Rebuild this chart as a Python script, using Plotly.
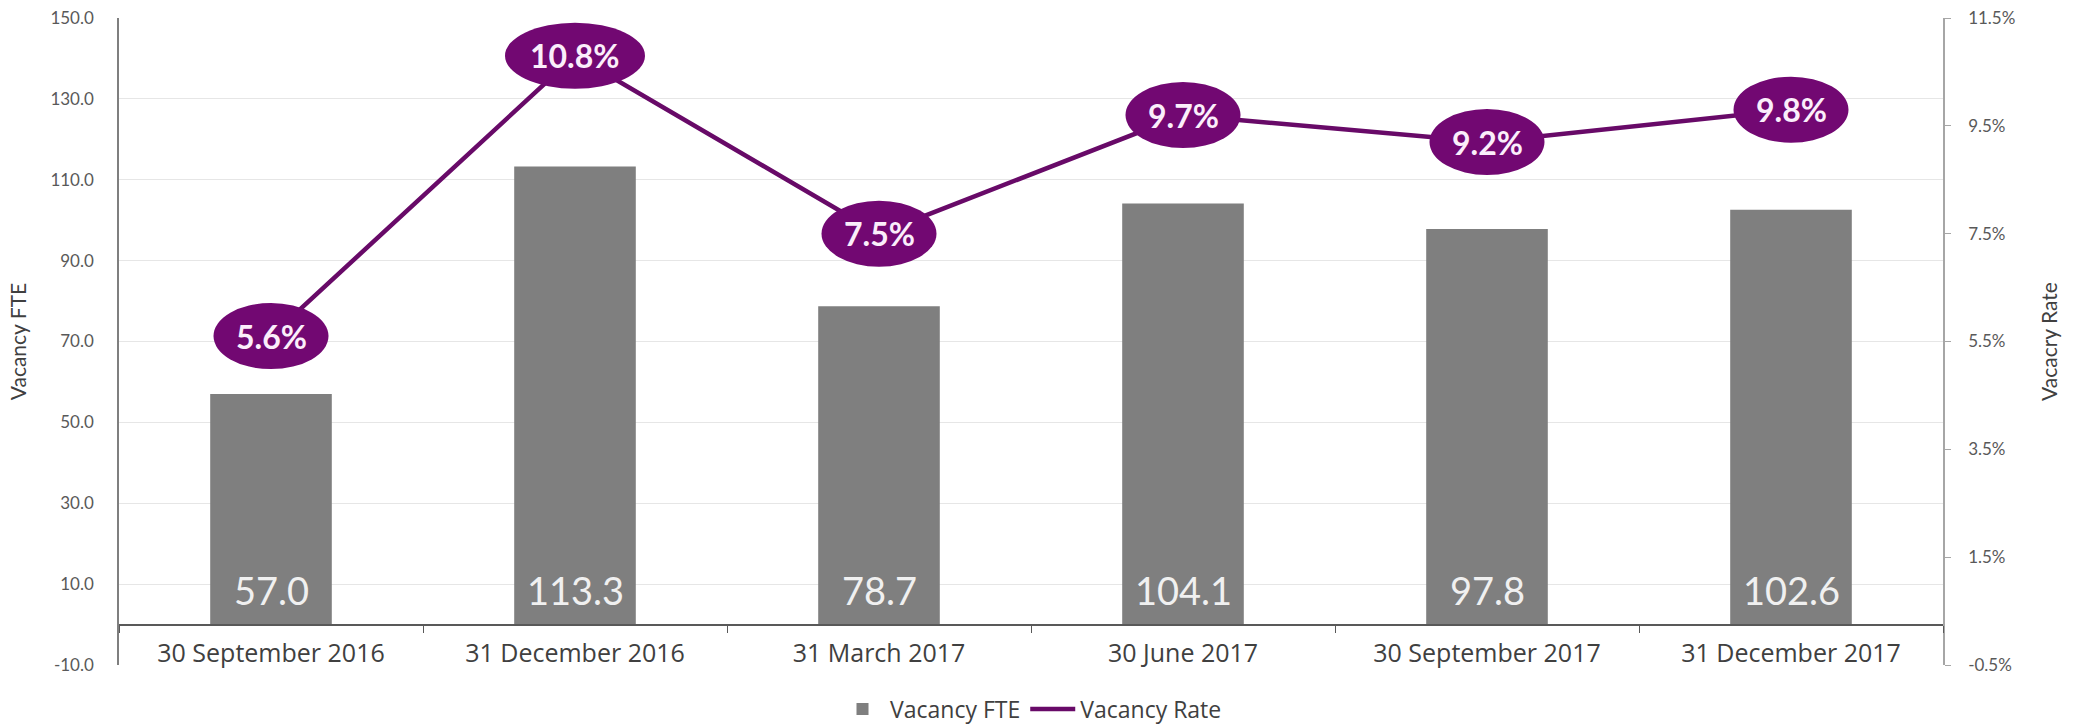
import plotly.graph_objects as go

categories = ["30 September 2016", "31 December 2016", "31 March 2017",
              "30 June 2017", "30 September 2017", "31 December 2017"]
vacancy_fte = [57.0, 113.3, 78.7, 104.1, 97.8, 102.6]
vacancy_rate = [5.6, 10.8, 7.5, 9.7, 9.2, 9.8]

left_ticks = [-10, 10, 30, 50, 70, 90, 110, 130, 150]
right_ticks = [-0.5, 1.5, 3.5, 5.5, 7.5, 9.5, 11.5]

PURPLE = "#720872"
LINE_PURPLE = "#680a68"
GRAY_BAR = "#7f7f7f"
FONT = "Lato"
FONT2 = "Open Sans"

fig = go.Figure()
fig.add_trace(go.Bar(
    x=categories, y=vacancy_fte, name="Vacancy FTE",
    marker=dict(color=GRAY_BAR, line=dict(width=0)),
))
fig.add_trace(go.Scatter(
    x=categories, y=vacancy_rate, name="Vacancy Rate", yaxis="y2",
    mode="lines", line=dict(color=LINE_PURPLE, width=4.5),
))

shapes = []
annotations = []
# bar value labels near the bar base
for c, v in zip(categories, vacancy_fte):
    annotations.append(dict(
        x=c, y=0, xref="x", yref="y", yanchor="bottom", yshift=10,
        text=f"{v:.1f}", showarrow=False,
        font=dict(family=FONT, size=38, color="#f0f0f0"),
    ))
# rate labels in ellipses
for i, r in enumerate(vacancy_rate):
    label = f"{r:.1f}%"
    half_w = 12.5 * len(label) + 7.5
    shapes.append(dict(
        type="circle", xref="x", yref="y2",
        xsizemode="pixel", ysizemode="pixel",
        xanchor=i, yanchor=r,
        x0=-half_w, x1=half_w, y0=-33, y1=33,
        fillcolor=PURPLE, line=dict(width=0), layer="above",
    ))
    annotations.append(dict(
        x=categories[i], y=r, xref="x", yref="y2",
        text=f"<b>{label}</b>", showarrow=False,
        font=dict(family=FONT, size=32, color="#fbeefb"),
    ))

fig.update_layout(
    width=2077, height=724,
    margin=dict(l=119, r=134, t=18, b=59, autoexpand=False),
    paper_bgcolor="white", plot_bgcolor="white",
    bargap=0.6,
    font=dict(family=FONT, color="#595959"),
    shapes=shapes, annotations=annotations,
    showlegend=True,
    legend=dict(orientation="h", x=0.5, xanchor="center", y=-0.068, yanchor="middle",
                font=dict(family=FONT2, size=23, color="#404040"),
                traceorder="normal", itemwidth=45),
    xaxis=dict(
        type="category", anchor="free", position=10/160,
        showline=True, linecolor="#595959", linewidth=2,
        ticks="outside", tickson="boundaries", ticklen=7, tickcolor="#595959",
        ticklabelstandoff=6,
        tickfont=dict(family=FONT2, size=25, color="#404040"),
        showgrid=False,
    ),
    yaxis=dict(
        range=[-10, 150], tickvals=left_ticks,
        ticktext=[f"{v:.1f}" for v in left_ticks],
        showgrid=True, gridcolor="#e6e6e6", gridwidth=1,
        zeroline=False,
        showline=True, linecolor="#7f7f7f", linewidth=1.5,
        ticks="", ticklabelstandoff=20,
        tickfont=dict(family=FONT, size=17, color="#595959"),
        title=dict(text="Vacancy FTE", font=dict(family=FONT, size=21, color="#404040"), standoff=18),
    ),
    yaxis2=dict(
        range=[-0.5, 11.5], tickvals=right_ticks,
        ticktext=[f"{v:.1f}%" for v in right_ticks],
        overlaying="y", side="right", showgrid=False, zeroline=False,
        showline=True, linecolor="#a6a6a6", linewidth=1.5,
        ticks="outside", ticklen=6, tickcolor="#a6a6a6", ticklabelstandoff=14,
        tickfont=dict(family=FONT, size=17, color="#595959"),
        title=dict(text="Vacacry Rate", font=dict(family=FONT, size=21, color="#404040"), standoff=28),
    ),
)

fig.write_html("out.html")
